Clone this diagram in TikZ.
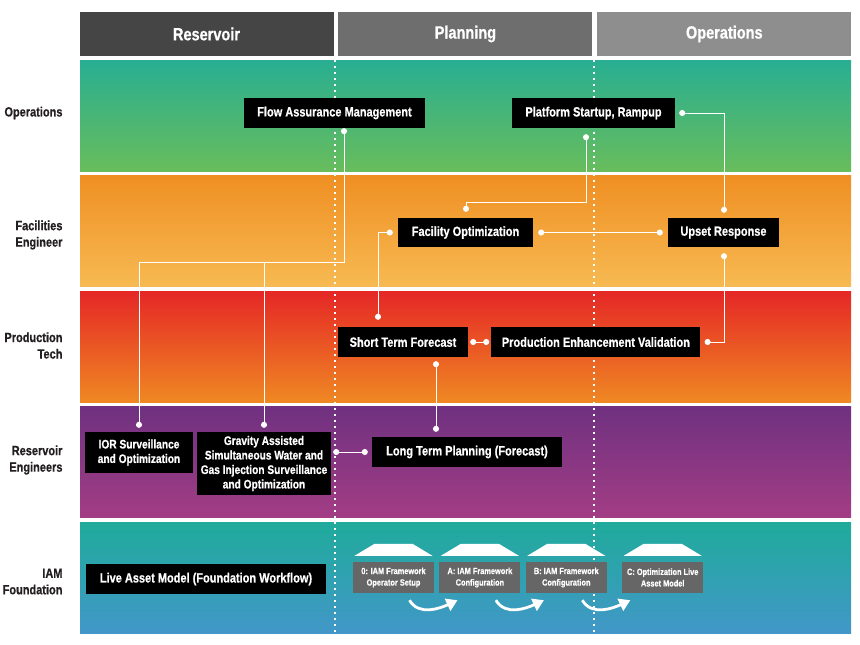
\documentclass[tikz,border=0pt]{standalone}
\usepackage{fontspec}
\setmainfont{Liberation Sans}[FakeStretch=0.82, BoldFeatures={FakeBold=0.6}]
\usetikzlibrary{positioning,arrows.meta}

\definecolor{hdrA}{HTML}{444544}
\definecolor{hdrB}{HTML}{6E6E6E}
\definecolor{hdrC}{HTML}{8E8E8E}
\definecolor{opsT}{RGB}{40,174,146}
\definecolor{opsB}{RGB}{104,189,92}
\definecolor{facT}{RGB}{239,143,35}
\definecolor{facB}{RGB}{247,186,82}
\definecolor{prodT}{RGB}{229,39,38}
\definecolor{prodB}{RGB}{239,136,35}
\definecolor{resT}{RGB}{111,49,128}
\definecolor{resB}{RGB}{163,61,133}
\definecolor{iamT}{RGB}{31,171,155}
\definecolor{iamB}{RGB}{66,151,200}
\definecolor{lanetext}{HTML}{231F20}
\definecolor{stepgray}{HTML}{666666}

\begin{document}
\begin{tikzpicture}[x=1pt, y=1pt,
    hdr/.style={fill=#1, text=white, minimum width=254pt, minimum height=44pt, inner sep=0pt,
        font=\fontsize{17.7}{20}\selectfont\bfseries},
    lane/.style={anchor=east, align=right, text=lanetext, font=\fontsize{13.4}{16.5}\selectfont\bfseries},
    task/.style={fill=black, text=white, minimum height=30pt, inner sep=2pt, align=center,
        font=\fontsize{13.4}{14.5}\selectfont\bfseries},
    small/.style={font=\fontsize{12.4}{14.5}\selectfont\bfseries},
    stepbox/.style={fill=stepgray, text=white, minimum width=81pt, minimum height=31pt, inner sep=1pt,
        align=center, font=\fontsize{9}{11.5}\selectfont\bfseries},
    link/.style={draw=white, line width=1pt},
    dots/.style={{Circle[length=6pt]}-{Circle[length=6pt]}},
    enddot/.style={-{Circle[length=6pt]}},
    divider/.style={draw=white, line width=1.5pt, dash pattern=on 1.5pt off 4.5pt},
    turn/.style={draw=white, line width=2.8pt, -{Triangle[length=11pt,width=13pt]}}]

    \useasboundingbox (0,0) rectangle (860,-645);

    % column heads
    \node[hdr=hdrA] (hres) at (206.5,-34) {Reservoir};
    \node[hdr=hdrB, right=4.5pt of hres] (hpla) {Planning};
    \node[hdr=hdrC, right=4.5pt of hpla] (hops) {Operations};

    % lanes
    \foreach \y/\c/\d in {60/opsT/opsB, 175.5/facT/facB, 291/prodT/prodB, 406.5/resT/resB, 522/iamT/iamB}
        \shade[top color=\c, bottom color=\d] (80,-\y) rectangle ++(771,-111);

    \draw[divider] (335,-60) -- (335,-633);
    \draw[divider] (594,-60) -- (594,-633);

    \node[lane] (lops) at (66,-113) {Operations};
    \node[lane] (lfac) at (66,-235) {Facilities\\Engineer};
    \node[lane] (lpro) at (66,-345.5) {Production\\Tech};
    \node[lane] (lres) at (66,-460) {Reservoir\\Engineers};
    \node[lane] (liam) at (66,-581.5) {IAM\\Foundation};

    % workflows
    \node[task, minimum width=181pt] (fam) at (334.5,-113) {Flow Assurance Management};
    \node[task, minimum width=163pt] (psr) at (593.5,-113) {Platform Startup, Rampup};
    \node[task, minimum width=135pt, minimum height=29pt] (fac) at (465.5,-232.5) {Facility Optimization};
    \node[task, minimum width=111pt, minimum height=29pt] (ups) at (723.5,-232.5) {Upset Response};
    \node[task, minimum width=130pt] (stf) at (403,-342) {Short Term Forecast};
    \node[task, minimum width=209pt, right=23pt of stf] (pev) {Production Enhancement Validation};
    \node[task, minimum width=190pt] (ltp) at (467,-452) {Long Term Planning (Forecast)};
    \node[task, small, minimum width=108pt, minimum height=41pt] (ior) at (139,-452.5)
        {IOR Surveillance\\and Optimization};
    \node[task, small, minimum width=134pt, minimum height=63pt] (gas) at (264,-463.5)
        {Gravity Assisted\\Simultaneous Water and\\Gas Injection Surveillance\\and Optimization};
    \node[task, minimum width=240pt] (lam) at (206,-579) {Live Asset Model (Foundation Workflow)};

    % foundation steps
    \node[stepbox] (s0) at (393.5,-577.5) {0: IAM Framework\\Operator Setup};
    \node[stepbox, right=5pt of s0] (sA) {A: IAM Framework\\Configuration};
    \node[stepbox, right=5pt of sA] (sB) {B: IAM Framework\\Configuration};
    \node[stepbox, right=15pt of sB] (sC) {C: Optimization Live\\Asset Model};

    \foreach \s in {s0,sA,sB,sC}
        \fill[white] ([shift={(-39,6)}]\s.north) -- ++(78,0) -- ++(-20,12) -- ++(-38,0) -- cycle;
    \foreach \s in {s0,sA,sB}
        \draw[turn] ([shift={(16,-7)}]\s.south) to[out=-60, in=205] ++(48,0);

    % links
    \draw[link, dots] ([xshift=9.5pt]fam.south) -- ++(0,-134) coordinate (fork) -| ([yshift=4pt]ior.north);
    \draw[link, enddot] (fork -| gas.north) -- ([yshift=4pt]gas.north);
    \draw[link, dots] ([shift={(-7.5,-6)}]psr.south) -- ++(0,-68) -| ([shift={(0.5,6)}]fac.north);
    \draw[link, dots] ([xshift=4pt]psr.east) -| ([shift={(0.5,5)}]ups.north);
    \draw[link, dots] ([xshift=5pt]fac.east) -- ([xshift=-5pt]ups.west);
    \draw[link, dots] ([xshift=-5pt]fac.west) -| ([shift={(-25,7)}]stf.north);
    \draw[link, dots] ([shift={(0.5,-6)}]ups.south) |- ([xshift=4pt]pev.east);
    \draw[link, dots] ([xshift=2pt]stf.east) -- ([xshift=-2pt]pev.west);
    \draw[link, dots] ([shift={(33,-4)}]stf.south) -- ([shift={(-31,5)}]ltp.north);
    \coordinate (gasport) at (gas.east |- ltp.west);
    \draw[link, dots] ([xshift=2pt]gasport) -- ([xshift=-4pt]ltp.west);
\end{tikzpicture}
\end{document}
